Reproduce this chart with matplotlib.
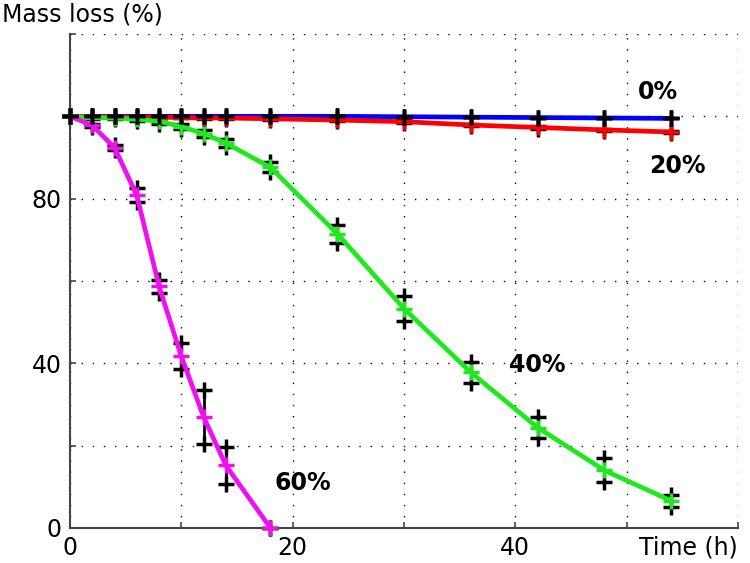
import matplotlib
matplotlib.use('Agg')
import matplotlib.pyplot as plt
import matplotlib.transforms as mtransforms

# temps (h) et perte de masse (%)
t = [0, 2, 4, 6, 8, 10, 12, 14, 18, 24, 30, 36, 42, 48, 54]
m0 = [100, 100, 100, 100, 100, 100, 100, 100, 100, 100, 99.9, 99.8, 99.7, 99.6, 99.5]
e0 = [0, 0, 0, 0, 0, 0, 0, 0, 0, 0, 0, 0, 0, 0, 0]
m20 = [100, 99.9, 99.9, 99.8, 99.8, 99.7, 99.6, 99.6, 99.4, 99.1, 98.7, 97.9, 97.3, 96.7, 96.2]
e20 = [0, 0.1, 0.1, 0.1, 0.1, 0.1, 0.2, 0.2, 0.2, 0.3, 0.3, 0.3, 0.3, 0.3, 0.3]
m40 = [100, 99.7, 99.6, 99.3, 98.8, 97.5, 95.8, 93.5, 87.6, 71.5, 53.3, 37.8, 24.4, 14.0, 6.6]
e40 = [0, 0.3, 0.3, 0.5, 0.6, 0.6, 0.8, 0.9, 1.2, 2.2, 3.0, 2.6, 2.6, 2.9, 1.4]
t60 = [0, 2, 4, 6, 8, 10, 12, 14, 18]
m60 = [100, 97.8, 92.4, 80.8, 58.7, 41.7, 27.0, 15.2, 0]
e60 = [0, 0.4, 0.6, 1.7, 1.6, 3.2, 6.5, 4.5, 0]

labels = ['0%', '20%', '40%', '60%']
label_pos = [(51, 106), (52, 88), (39.4, 39.5), (18.4, 11)]
colors = ['#0000ff', '#ff0000', '#1ee81e', '#ee11ee']

series = [(t, m0, e0), (t, m20, e20), (t, m40, e40), (t60, m60, e60)]

fig = plt.figure(figsize=(7.5, 5.63), dpi=100)
ax = fig.add_axes([0.0933, 0.0622, 0.8907, 0.8774])

for i, (x, y, e) in enumerate(series):
    z_err = 5 if i == 0 else 2
    ax.errorbar(x, y, yerr=e, fmt='none', ecolor='black', elinewidth=2,
                capsize=0, zorder=z_err, clip_on=False)
    lo = [a - b for a, b in zip(y, e)]
    hi = [a + b for a, b in zip(y, e)]
    ax.plot(x, lo, '+', color='black', ms=11, mew=2.5, zorder=z_err, clip_on=False)
    ax.plot(x, hi, '+', color='black', ms=11, mew=2.5, zorder=z_err, clip_on=False)
    ax.plot(x, y, '-+', color=colors[i], lw=3.4, ms=11, mew=2.5, zorder=3,
            clip_on=False)
    ax.text(label_pos[i][0], label_pos[i][1], labels[i], fontsize=17,
            fontweight='bold', ha='left', va='center')

ax.set_xlim(0, 60)
ax.set_ylim(0, 120)
ax.set_xticks(range(0, 61, 10))
ax.set_xticklabels(['0', '', '20', '', '40', '', ''])
ax.set_yticks(range(0, 121, 20))
ax.set_yticklabels(['0', '', '40', '', '80', '', ''])
ax.tick_params(direction='in', length=4, width=1.2, colors='#444444',
               labelcolor='black', labelsize=17, pad=6)
ax.grid(True, color='black', linestyle=(0, (1, 7)), linewidth=1)
ax.spines['top'].set_visible(False)
ax.spines['right'].set_visible(False)
for s in ['left', 'bottom']:
    ax.spines[s].set_color('#444444')
    ax.spines[s].set_linewidth(1.5)

trans = mtransforms.blended_transform_factory(ax.transData, ax.transAxes)
ax.text(60, -0.015, 'Time (h)', transform=trans, ha='right', va='top', fontsize=17)
fig.text(0.003, 0.995, 'Mass loss (%)', ha='left', va='top', fontsize=17)

fig.savefig('out.png', dpi=100)
